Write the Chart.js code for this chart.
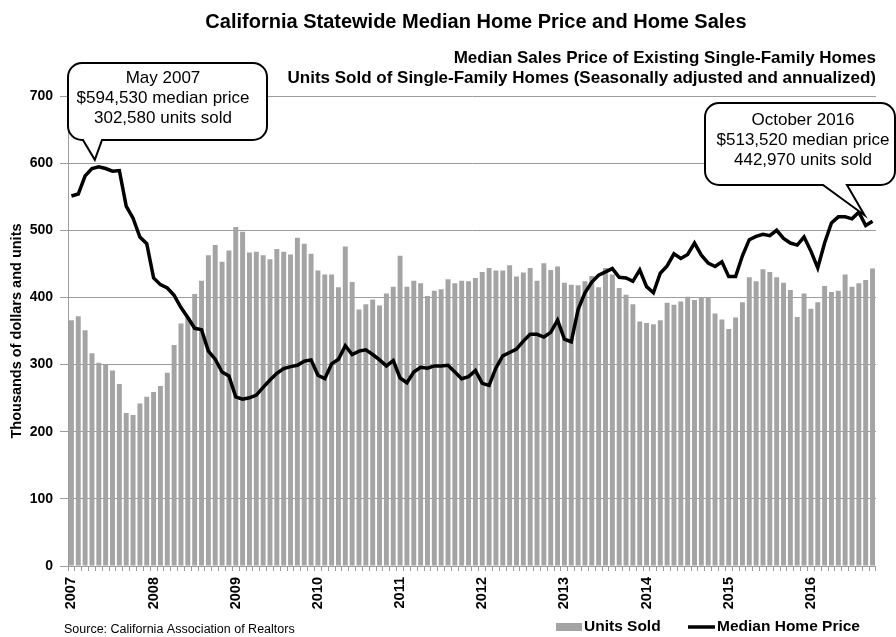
<!DOCTYPE html>
<html>
<head>
<meta charset="utf-8">
<title>California Statewide Median Home Price and Home Sales</title>
<script src="https://cdn.jsdelivr.net/npm/chart.js@4.4.1/dist/chart.umd.min.js"></script>
<style>
  html, body { margin: 0; padding: 0; background: #fff; }
</style>
</head>
<body>
<canvas id="homeChart" width="896" height="637"></canvas>
<script>
// ---- data (thousands), monthly Jan 2007 .. Oct 2016 ----
const firstYear = 2007;
const yearTicks = ['2007', '2008', '2009', '2010', '2011', '2012', '2013', '2014', '2015', '2016'];

const unitsSold = [
  366, 372, 351, 317, 302.58, 300, 291, 271, 228, 225, 242, 252,
  259, 268, 288, 329, 361, 371, 405, 425, 463, 478, 453, 470,
  505, 498, 467, 468, 463, 457, 472, 468, 464, 489, 480, 465,
  440, 434, 434, 415, 476, 423, 382, 390, 397, 388, 406, 416,
  462, 416, 425, 421, 402, 410, 412, 427, 421, 425, 424, 429,
  438, 444, 440, 440, 448, 431, 437, 444, 425, 451, 441, 446,
  422, 419, 418, 424, 432, 415, 444, 434, 414, 404, 390, 364,
  362, 360, 366, 392, 389, 394, 401, 396, 399, 400, 376, 367,
  353, 370, 393, 430, 424, 442, 438, 430, 422, 411, 371, 406,
  383, 393, 417, 408, 410, 434, 416, 421, 426, 442.97
];

const medianPrice = [
  551, 554, 581, 592, 594.53, 592, 588, 589, 536, 518, 490, 480,
  429, 419, 414, 403, 385, 370, 354, 352, 320, 308, 289, 283,
  252, 248.5, 250.5, 254.5, 266, 277, 287, 294, 297, 299, 305, 307,
  284, 279, 301, 308, 328, 315, 320, 322, 315, 307, 298, 306,
  280, 273, 289, 296, 294.5, 298, 298, 299, 289, 279, 282, 291,
  272, 269, 295, 313, 318, 323, 335, 345, 345, 341, 348, 366,
  338, 334, 382, 407, 423, 433, 438, 443, 430, 429, 424, 441,
  416, 407, 436, 447, 465, 458, 464, 481, 463, 451, 446, 453,
  431, 431, 462, 486, 491, 494, 492, 500, 488, 481, 478, 490,
  469, 444, 481, 511, 520, 520, 517, 527, 507, 513.52
];

const chartTitle = 'California Statewide Median Home Price and Home Sales';
const subTitles = [
  'Median Sales Price of Existing Single-Family Homes',
  'Units Sold of Single-Family Homes (Seasonally adjusted and annualized)'
];
const sourceNote = 'Source: California Association of Realtors';
const calloutMay2007 = ['May 2007', '$594,530 median price', '302,580 units sold'];
const calloutOct2016 = ['October 2016', '$513,520 median price', '442,970 units sold'];

// month categories built from the series length
const months = unitsSold.map((_, i) =>
  `${firstYear + Math.floor(i / 12)}-${String(i % 12 + 1).padStart(2, '0')}`);

const FONT = "'Liberation Sans', Arial, Helvetica, sans-serif";
const BAR_GRAY = '#a4a4a4';
const GRID_GRAY = '#9c9c9c';

// rounded box with a pointer tail
function drawCallout(ctx, box, base, tip, lines, textX, textY) {
  const r = 14;
  ctx.beginPath();
  ctx.moveTo(box.l + r, box.t);
  ctx.lineTo(box.r - r, box.t);
  ctx.arcTo(box.r, box.t, box.r, box.t + r, r);
  ctx.lineTo(box.r, box.b - r);
  ctx.arcTo(box.r, box.b, box.r - r, box.b, r);
  ctx.lineTo(base[1], box.b);
  ctx.lineTo(tip.x, tip.y);
  ctx.lineTo(base[0], box.b);
  ctx.lineTo(box.l + r, box.b);
  ctx.arcTo(box.l, box.b, box.l, box.b - r, r);
  ctx.lineTo(box.l, box.t + r);
  ctx.arcTo(box.l, box.t, box.l + r, box.t, r);
  ctx.closePath();
  ctx.fillStyle = '#fff';
  ctx.fill();
  ctx.lineWidth = 2;
  ctx.strokeStyle = '#000';
  ctx.stroke();

  ctx.fillStyle = '#000';
  ctx.font = `17px ${FONT}`;
  ctx.textAlign = 'center';
  ctx.textBaseline = 'middle';
  lines.forEach((t, i) => ctx.fillText(t, textX, textY + i * 20));
}

const overlay = {
  id: 'overlay',
  afterDraw(chart) {
    const { ctx, chartArea, scales } = chart;
    const xs = scales.x, ys = scales.y;
    ctx.save();
    ctx.fillStyle = '#000';
    ctx.textBaseline = 'middle';

    // titles
    ctx.font = `bold 20px ${FONT}`;
    ctx.textAlign = 'center';
    ctx.fillText(chartTitle, (chartArea.left + chartArea.right) / 2 + 4, 22);
    ctx.font = `bold 17px ${FONT}`;
    ctx.textAlign = 'right';
    subTitles.forEach((t, i) => ctx.fillText(t, 876, 58 + i * 20));

    // callouts, tails pointing at the data points
    const n = medianPrice.length - 1;
    const p1 = { x: xs.getPixelForValue(4), y: ys.getPixelForValue(medianPrice[4]) };
    const p2 = { x: xs.getPixelForValue(n), y: ys.getPixelForValue(medianPrice[n]) };
    drawCallout(ctx, { l: 68, t: 63, r: 267, b: 140 }, [83, 102],
      { x: p1.x - 4, y: p1.y - 7 }, calloutMay2007, 163, 78);
    drawCallout(ctx, { l: 705, t: 103, r: 895, b: 185 }, [823, 847],
      { x: p2.x - 8, y: p2.y - 6 }, calloutOct2016, 803, 120);

    // legend
    const ds = chart.data.datasets;
    ctx.fillStyle = ds[1].backgroundColor;
    ctx.fillRect(556, 623, 26, 8);
    ctx.fillStyle = '#000';
    ctx.font = `bold 15.5px ${FONT}`;
    ctx.textAlign = 'left';
    ctx.fillText(ds[1].label, 584, 627);
    ctx.beginPath();
    ctx.moveTo(688, 627);
    ctx.lineTo(715, 627);
    ctx.lineWidth = 3.5;
    ctx.strokeStyle = ds[0].borderColor;
    ctx.stroke();
    ctx.fillText(ds[0].label, 717, 627);

    // source
    ctx.font = `12.5px ${FONT}`;
    ctx.fillText(sourceNote, 64, 630);
    ctx.restore();
  }
};

new Chart(document.getElementById('homeChart'), {
  data: {
    labels: months,
    datasets: [
      {
        type: 'line',
        label: 'Median Home Price',
        data: medianPrice,
        borderColor: '#000',
        backgroundColor: '#000',
        borderWidth: 3.5,
        pointRadius: 0,
        tension: 0,
        order: 0
      },
      {
        type: 'bar',
        label: 'Units Sold',
        data: unitsSold,
        backgroundColor: BAR_GRAY,
        barPercentage: 0.72,
        categoryPercentage: 1,
        order: 1
      }
    ]
  },
  options: {
    responsive: false,
    animation: false,
    devicePixelRatio: 1,
    layout: { padding: { top: 96, right: 17, left: 0, bottom: 0 } },
    plugins: {
      legend: { display: false },
      title: { display: false },
      tooltip: { enabled: false }
    },
    scales: {
      x: {
        grid: { display: true, drawOnChartArea: false, tickLength: 5, color: GRID_GRAY },
        border: { color: GRID_GRAY },
        ticks: {
          autoSkip: false, minRotation: 90, maxRotation: 90, padding: 6,
          color: '#000', font: { family: FONT, size: 14.5, weight: 'bold' },
          callback: (v, i) => (i % 12 === 0 ? yearTicks[i / 12] : '')
        },
        afterFit: s => { s.height = 71; }
      },
      y: {
        min: 0, max: 700,
        grid: { color: GRID_GRAY, tickLength: 8 },
        border: { color: GRID_GRAY },
        ticks: {
          stepSize: 100, padding: 7, color: '#000',
          font: { family: FONT, size: 14, weight: 'bold' }
        },
        title: {
          display: true, text: 'Thousands of dollars and units', color: '#000',
          font: { family: FONT, size: 14.5, weight: 'bold' }, padding: { top: 8, bottom: 0 }
        },
        afterFit: s => { s.width = 68; }
      }
    }
  },
  plugins: [overlay]
});
</script>
</body>
</html>
